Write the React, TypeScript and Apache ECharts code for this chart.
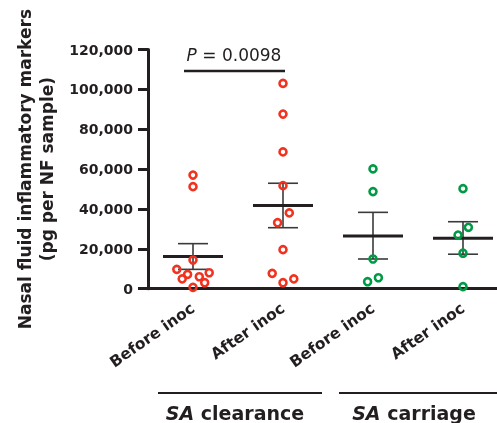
import React, { useEffect, useRef } from "react";
import * as echarts from "echarts";

const categories = ["Before inoc", "After inoc", "Before inoc", "After inoc"];

const clearanceBefore = [57000, 51200, 14400, 9700, 7200, 8000, 4900, 6000, 3000, 700];
const clearanceBeforeJitter = [0, 0, 0, -0.18, -0.06, 0.18, -0.12, 0.07, 0.13, 0];
const clearanceAfter = [103000, 87600, 68600, 51700, 38000, 33100, 19600, 7700, 4900, 3000];
const clearanceAfterJitter = [0, 0, 0, 0, 0.07, -0.06, 0, -0.12, 0.12, 0];
const carriageBefore = [60100, 48700, 14900, 5500, 3500];
const carriageBeforeJitter = [0, 0, 0, 0.06, -0.06];
const carriageAfter = [50200, 30800, 26900, 17800, 1000];
const carriageAfterJitter = [0, 0.06, -0.055, 0, 0];

const means = [16100, 41800, 26400, 25300];
const semLow = [9700, 30600, 14900, 17300];
const semHigh = [22600, 52900, 38300, 33600];

const yMin = 0;
const yMax = 120000;
const yInterval = 20000;

const pValueText = "0.0098";
const groupLabels = ["clearance", "carriage"];

const RED = "#f0321f";
const GREEN = "#009a44";
const INK = "#231f20";
const FONT = "DejaVu Sans";

function pts(vals: number[], jit: number[], idx: number) {
  return vals.map((v, k) => [idx + jit[k], v]);
}

export default function App() {
  const ref = useRef<HTMLDivElement>(null);
  useEffect(() => {
    if (!ref.current) return;
    const chart = echarts.init(ref.current, undefined, { renderer: "svg" });
    const scatterStyle = (color: string) => ({
      type: "scatter",
      xAxisIndex: 1,
      symbol: "circle",
      symbolSize: 7,
      itemStyle: { color: "rgba(255,255,255,0)", borderColor: color, borderWidth: 2.6, opacity: 1 },
      z: 3,
    });
    const groupText = (x: number, label: string) => ({
      type: "text",
      x,
      y: 413,
      style: {
        text: "{i|SA} " + label,
        align: "center",
        verticalAlign: "middle",
        fill: INK,
        font: `bold 19px "${FONT}"`,
        rich: { i: { fontStyle: "italic", fontWeight: "bold", fontFamily: FONT, fontSize: 19, fill: INK } },
      },
    });
    chart.setOption({
      animation: false,
      grid: { left: 148, top: 49.5, width: 360, height: 239.2, outerBoundsMode: "none", containLabel: false },
      xAxis: [
        {
          type: "category",
          data: categories,
          boundaryGap: true,
          axisLine: { lineStyle: { color: INK, width: 3 } },
          axisTick: { alignWithLabel: true, length: 10, lineStyle: { color: INK, width: 3 } },
          axisLabel: {
            rotate: 35,
            margin: 18,
            color: INK,
            fontFamily: FONT,
            fontWeight: "bold",
            fontSize: 15.5,
            interval: 0,
          },
          z: 2,
        },
        { type: "value", min: -0.5, max: 3.5, show: false },
      ],
      yAxis: {
        type: "value",
        min: yMin,
        max: yMax,
        interval: yInterval,
        splitLine: { show: false },
        axisLine: { show: true, onZero: false, lineStyle: { color: INK, width: 3 } },
        axisTick: { show: true, length: 10, lineStyle: { color: INK, width: 3 } },
        axisLabel: {
          margin: 15,
          color: INK,
          fontFamily: FONT,
          fontWeight: "bold",
          fontSize: 14,
          formatter: (v: number) => v.toLocaleString("en-US"),
        },
        name: "Nasal fluid inflammatory markers\n(pg per NF sample)",
        nameLocation: "middle",
        nameGap: 90,
        nameTextStyle: {
          color: INK,
          fontFamily: FONT,
          fontWeight: "bold",
          fontSize: 17,
          lineHeight: 22,
        },
      },
      series: [
        {
          type: "custom",
          xAxisIndex: 0,
          z: 2,
          data: categories.map((_, i) => [i, means[i], semLow[i], semHigh[i]]),
          encode: { x: 0, y: 1 },
          renderItem: (params: any, api: any) => {
            const i = api.value(0);
            const m = api.coord([i, api.value(1)]);
            const lo = api.coord([i, api.value(2)]);
            const hi = api.coord([i, api.value(3)]);
            const band = api.size([1, 0])[0];
            const mh = band / 3;
            const ch = band / 6;
            const thin = { stroke: "#3a3a3a", lineWidth: 1.6 };
            return {
              type: "group",
              children: [
                { type: "line", shape: { x1: m[0], y1: hi[1], x2: m[0], y2: lo[1] }, style: thin },
                { type: "line", shape: { x1: m[0] - ch, y1: hi[1], x2: m[0] + ch, y2: hi[1] }, style: thin },
                { type: "line", shape: { x1: m[0] - ch, y1: lo[1], x2: m[0] + ch, y2: lo[1] }, style: thin },
                { type: "line", shape: { x1: m[0] - mh, y1: m[1], x2: m[0] + mh, y2: m[1] }, style: { stroke: INK, lineWidth: 3 } },
              ],
            };
          },
        },
        { ...scatterStyle(RED), data: pts(clearanceBefore, clearanceBeforeJitter, 0) },
        { ...scatterStyle(RED), data: pts(clearanceAfter, clearanceAfterJitter, 1) },
        { ...scatterStyle(GREEN), data: pts(carriageBefore, carriageBeforeJitter, 2) },
        { ...scatterStyle(GREEN), data: pts(carriageAfter, carriageAfterJitter, 3) },
      ],
      graphic: [
        { type: "line", shape: { x1: 184, y1: 71, x2: 285, y2: 71 }, style: { stroke: INK, lineWidth: 2.5 } },
        {
          type: "text",
          x: 234,
          y: 55,
          style: {
            text: "{i|P} = " + pValueText,
            align: "center",
            verticalAlign: "middle",
            fill: INK,
            font: `17px "${FONT}"`,
            rich: { i: { fontStyle: "italic", fontFamily: FONT, fontSize: 17, fill: INK } },
          },
        },
        { type: "line", shape: { x1: 158, y1: 393, x2: 322, y2: 393 }, style: { stroke: INK, lineWidth: 2 } },
        { type: "line", shape: { x1: 339, y1: 393, x2: 497, y2: 393 }, style: { stroke: INK, lineWidth: 2 } },
        groupText(235, groupLabels[0]),
        groupText(414, groupLabels[1]),
      ],
    });
    return () => chart.dispose();
  }, []);
  return <div ref={ref} style={{ position: "fixed", left: 0, top: 0, width: 497, height: 423 }} />;
}
